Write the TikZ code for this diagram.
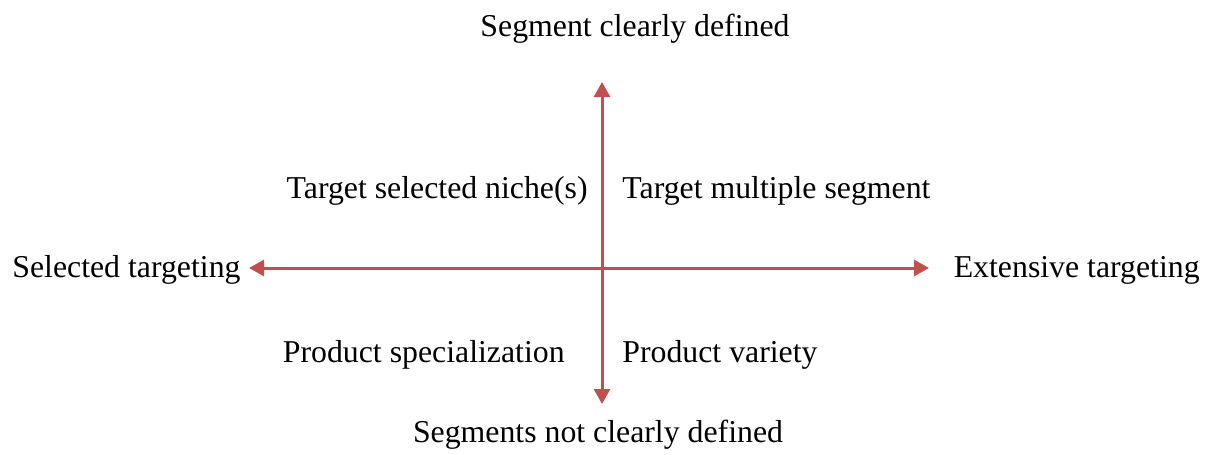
\documentclass[tikz,border=0pt]{standalone}
\usepackage{fontspec}
\setmainfont{Liberation Serif}
\usetikzlibrary{arrows.meta}
\definecolor{axisred}{RGB}{192,80,77}
\begin{document}
\begin{tikzpicture}[x=0.5pt,y=-0.5pt,
  lbl/.style={inner sep=0pt,font=\fontsize{15.9}{19}\selectfont},
  axis/.style={draw=axisred,line width=1.5pt,{Triangle[width=8pt,length=7.5pt]}-{Triangle[width=8pt,length=7.5pt]}}]
\useasboundingbox (0,0) rectangle (1206,455);
\coordinate (top) at (602,82);
\coordinate (bot) at (602,404);
\coordinate (lft) at (249,268);
\coordinate (rgt) at (929,268);
\draw[axis] (bot) -- (top);
\draw[axis] (lft) -- (rgt);
\node[lbl,anchor=base] (n) at (635,36) {Segment clearly defined};
\node[lbl,anchor=base] (s) at (598,442) {Segments not clearly defined};
\node[lbl,anchor=base west] (w) at (12,277) {Selected targeting};
\node[lbl,anchor=base east] (e) at (1200,277) {Extensive targeting};
\node[lbl,anchor=base east] (q2) at (588,198) {Target selected niche(s)};
\node[lbl,anchor=base west] (q1) at (622,198) {Target multiple segment};
\node[lbl,anchor=base east] (q3) at (565,362) {Product specialization};
\node[lbl,anchor=base west] (q4) at (622,362) {Product variety};
\end{tikzpicture}
\end{document}
